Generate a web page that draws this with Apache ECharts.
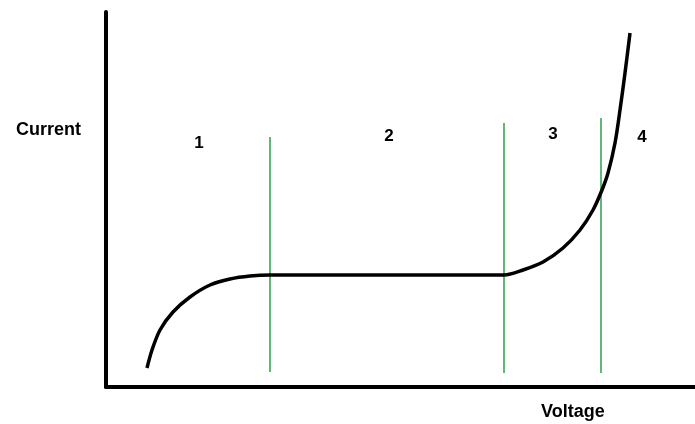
<!DOCTYPE html>
<html>
<head>
<meta charset="utf-8">
<script src="https://cdn.jsdelivr.net/npm/echarts@6/dist/echarts.min.js"></script>
<style>
  html, body { margin: 0; padding: 0; background: #fff; }
  #chart { width: 695px; height: 424px; }
</style>
</head>
<body>
<div id="chart"></div>
<script>
// I-V curve sketch (arbitrary units)
const curveVoltage = [41, 46, 54, 67, 84, 104, 124, 144, 164, 398, 417, 437, 457, 474, 487, 496, 502, 509, 514, 519, 524];
const curveCurrent = [19, 37, 57, 75, 90, 102, 108, 111, 112, 112, 117, 125, 139, 157, 177, 197, 214, 244, 277, 314, 354];

// region boundaries (green lines)
const boundaryVoltage = [164, 398, 495];
const boundaryBottom = [15, 14, 14];
const boundaryTop = [250, 264, 269];

const regionLabels = ['1', '2', '3', '4'];

const chart = echarts.init(document.getElementById('chart'));

const curveData = curveVoltage.map((v, i) => [v, curveCurrent[i]]);

const boundarySeries = boundaryVoltage.map((v, i) => ({
  type: 'line',
  silent: true,
  showSymbol: false,
  lineStyle: { color: '#3aa655', width: 1.6 },
  data: [[v, boundaryBottom[i]], [v, boundaryTop[i]]],
  z: 2,
}));

const labelPos = [[199, 143], [389, 136], [553, 134], [642, 137]];

chart.setOption({
  animation: false,
  backgroundColor: '#fff',
  grid: { left: 106, top: 12, right: 0, bottom: 37 },
  xAxis: {
    type: 'value',
    min: 0,
    max: 589,
    axisLine: { show: true, lineStyle: { color: '#000', width: 4 } },
    axisTick: { show: false },
    axisLabel: { show: false },
    splitLine: { show: false },
  },
  yAxis: {
    type: 'value',
    min: 0,
    max: 375,
    axisLine: { show: true, lineStyle: { color: '#000', width: 4 } },
    axisTick: { show: false },
    axisLabel: { show: false },
    splitLine: { show: false },
  },
  series: [
    ...boundarySeries,
    {
      type: 'line',
      smooth: 0.3,
      showSymbol: false,
      lineStyle: { color: '#000', width: 3.5 },
      data: curveData,
      z: 3,
    },
  ],
  graphic: [
    {
      type: 'text', left: 16, top: 121,
      style: { text: 'Current', font: 'bold 18px "Liberation Sans", Arial, sans-serif', fill: '#000' },
    },
    {
      type: 'text', left: 541, top: 403,
      style: { text: 'Voltage', font: 'bold 18px "Liberation Sans", Arial, sans-serif', fill: '#000' },
    },
    ...regionLabels.map((t, i) => ({
      type: 'text',
      x: labelPos[i][0],
      y: labelPos[i][1],
      style: {
        text: t,
        font: 'bold 17px "Liberation Sans", Arial, sans-serif',
        fill: '#000',
        align: 'center',
        verticalAlign: 'middle',
      },
    })),
  ],
});
</script>
</body>
</html>
